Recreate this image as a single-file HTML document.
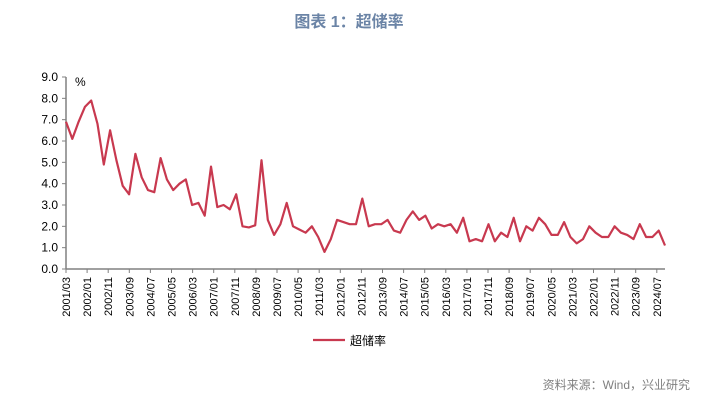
<!DOCTYPE html>
<html><head><meta charset="utf-8"><style>
body{margin:0;background:#fff;width:726px;height:403px;overflow:hidden;font-family:"Liberation Sans","Noto Sans CJK SC",sans-serif}
</style></head><body>
<svg width="726" height="403" xmlns="http://www.w3.org/2000/svg">
<text x="349" y="27" text-anchor="middle" font-size="16" font-weight="bold" fill="#6b84a6" font-family="Liberation Sans, Noto Sans CJK SC, sans-serif">图表 1：超储率</text>
<g id="yaxis"></g>
<g id="xaxis"></g>
<text x="75" y="86" font-size="12" fill="#000">%</text>
<path id="line" fill="none" stroke="#c8394f" stroke-width="2.2" stroke-linejoin="round"/>
<g>
<line x1="313" y1="340" x2="345" y2="340" stroke="#c8394f" stroke-width="2.2"/>
<text x="350" y="345" font-size="12" fill="#000" font-family="Liberation Sans, Noto Sans CJK SC, sans-serif">超储率</text>
</g>
<text x="690" y="389" text-anchor="end" font-size="12" fill="#808080" font-family="Liberation Sans, Noto Sans CJK SC, sans-serif">资料来源：Wind，兴业研究</text>
</svg>
<script>
const values=[6.9,6.1,6.9,7.6,7.9,6.8,4.9,6.5,5.1,3.9,3.5,5.4,4.3,3.7,3.6,5.2,4.2,3.7,4.0,4.2,3.0,3.1,2.5,4.8,2.9,3.0,2.8,3.5,2.0,1.95,2.05,5.1,2.3,1.6,2.1,3.1,2.0,1.85,1.7,2.0,1.5,0.8,1.4,2.3,2.2,2.1,2.1,3.3,2.0,2.1,2.1,2.3,1.8,1.7,2.3,2.7,2.3,2.5,1.9,2.1,2.0,2.1,1.7,2.4,1.3,1.4,1.3,2.1,1.3,1.7,1.5,2.4,1.3,2.0,1.8,2.4,2.1,1.6,1.6,2.2,1.5,1.2,1.4,2.0,1.7,1.5,1.5,2.0,1.7,1.6,1.4,2.1,1.5,1.5,1.8,1.1];
const yTicks=["0.0","1.0","2.0","3.0","4.0","5.0","6.0","7.0","8.0","9.0"];
const xLabels=["2001/03","2002/01","2002/11","2003/09","2004/07","2005/05","2006/03","2007/01","2007/11","2008/09","2009/07","2010/05","2011/03","2012/01","2012/11","2013/09","2014/07","2015/05","2016/03","2017/01","2017/11","2018/09","2019/07","2020/05","2021/03","2022/01","2022/11","2023/09","2024/07"];
const NS="http://www.w3.org/2000/svg";
const X0=66,X1=665,Y0=269,Y9=77;
const y=v=>Y0-(v/9)*(Y0-Y9);
const xi=i=>X0+i*(X1-X0)/(values.length-1);
const xTick=k=>X0+k*21.1;
function mk(tag,attrs,parent){const e=document.createElementNS(NS,tag);for(const k in attrs)e.setAttribute(k,attrs[k]);parent.appendChild(e);return e;}
const ya=document.getElementById('yaxis'),xa=document.getElementById('xaxis');
mk('line',{x1:X0,y1:Y9,x2:X0,y2:Y0,stroke:'#808080','stroke-width':1.5},ya);
yTicks.forEach(t=>{const v=parseFloat(t);
mk('line',{x1:X0-4,y1:y(v),x2:X0,y2:y(v),stroke:'#808080','stroke-width':1},ya);
const tx=mk('text',{x:X0-8,y:y(v)+4,'text-anchor':'end','font-size':12,fill:'#000'},ya);tx.textContent=t;

});
mk('line',{x1:X0,y1:Y0,x2:X1,y2:Y0,stroke:'#808080','stroke-width':1.5},xa);
xLabels.forEach((t,k)=>{const x=xTick(k);
mk('line',{x1:x,y1:Y0,x2:x,y2:Y0+4,stroke:'#808080','stroke-width':1},xa);
const tx=mk('text',{x:0,y:0,'text-anchor':'end','font-size':11,fill:'#000',transform:`translate(${x+4},${Y0+8}) rotate(-90)`},xa);tx.textContent=t;

});
document.getElementById('line').setAttribute('d',values.map((v,i)=>(i?'L':'M')+xi(i).toFixed(1)+','+y(v).toFixed(1)).join(''));
</script>
</body></html>
